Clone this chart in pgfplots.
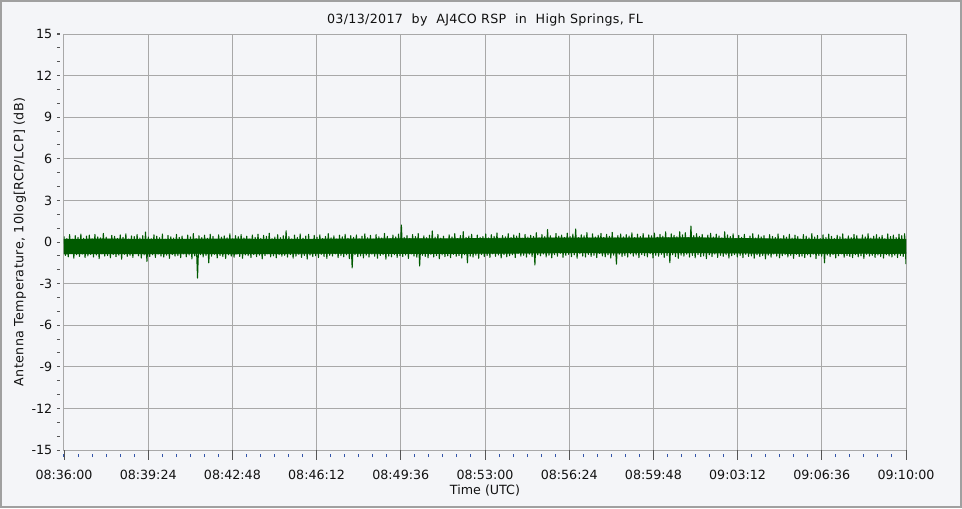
\documentclass[border=0pt]{standalone}
\usepackage{fontspec}
\setmainfont{DejaVu Sans}
\newfontfamily\spaced[LetterSpace=3.3]{DejaVu Sans}
\newfontfamily\spacedt[LetterSpace=2.6]{DejaVu Sans}
\usepackage{pgfplots}
\pgfplotsset{compat=1.18}
\usepackage{pgfplotstable}
\definecolor{bg}{HTML}{F4F5F8}
\definecolor{framecol}{HTML}{A0A0A0}
\definecolor{gridcol}{HTML}{A8A8A8}
\definecolor{sig}{HTML}{005A00}
\definecolor{tickcol}{HTML}{555555}
\definecolor{mtickcol}{HTML}{3355AA}
\definecolor{txt}{HTML}{111111}

\pgfplotstableread[row sep=\\]{
y\\
0.40\\ -0.97\\ 0.25\\ -1.07\\ 0.53\\ -0.82\\ 0.20\\ -1.17\\ 0.45\\ -0.92\\ 0.33\\ -1.04\\ 0.57\\ -0.87\\ 0.27\\ -1.12\\ 0.43\\ -1.00\\ 0.50\\ -0.90\\
0.23\\ -1.08\\ 0.55\\ -0.94\\ 0.37\\ -1.20\\ 0.30\\ -0.86\\ 0.62\\ -1.02\\ 0.35\\ -0.98\\ 0.18\\ -1.14\\ 0.48\\ -0.91\\ 0.41\\ -1.06\\ 0.26\\ -0.95\\
0.51\\ -1.24\\ 0.34\\ -0.89\\ 0.59\\ -1.03\\ 0.22\\ -0.96\\ 0.44\\ -1.11\\ 0.39\\ -0.84\\ 0.54\\ -0.99\\ 0.29\\ -1.16\\ 0.46\\ -0.93\\ 0.72\\ -1.40\\
0.36\\ -1.05\\ 0.24\\ -0.92\\ 0.52\\ -1.12\\ 0.42\\ -0.88\\ 0.31\\ -1.01\\ 0.58\\ -1.09\\ 0.21\\ -0.95\\ 0.47\\ -1.18\\ 0.38\\ -0.90\\ 0.28\\ -1.02\\
0.55\\ -0.98\\ 0.33\\ -1.13\\ 0.43\\ -0.86\\ 0.19\\ -1.07\\ 0.50\\ -0.94\\ 0.37\\ -1.22\\ 0.61\\ -1.00\\ 0.25\\ -2.60\\ 0.45\\ -0.91\\ 0.32\\ -1.08\\
0.49\\ -0.96\\ 0.27\\ -1.50\\ 0.56\\ -1.03\\ 0.40\\ -0.89\\ 0.17\\ -1.15\\ 0.52\\ -0.97\\ 0.35\\ -1.05\\ 0.44\\ -1.19\\ 0.30\\ -0.92\\ 0.59\\ -1.01\\
0.23\\ -1.10\\ 0.46\\ -0.87\\ 0.38\\ -1.04\\ 0.54\\ -1.17\\ 0.29\\ -0.93\\ 0.42\\ -0.99\\ 0.20\\ -1.12\\ 0.51\\ -0.90\\ 0.34\\ -1.06\\ 0.57\\ -0.95\\
0.26\\ -1.21\\ 0.48\\ -0.98\\ 0.41\\ -0.85\\ 0.63\\ -1.07\\ 0.24\\ -1.00\\ 0.36\\ -1.14\\ 0.53\\ -0.92\\ 0.31\\ -1.03\\ 0.45\\ -0.96\\ 0.81\\ -1.09\\
0.39\\ -0.91\\ 0.22\\ -1.16\\ 0.50\\ -1.02\\ 0.33\\ -0.88\\ 0.58\\ -1.11\\ 0.28\\ -0.97\\ 0.43\\ -1.23\\ 0.55\\ -0.94\\ 0.18\\ -1.05\\ 0.47\\ -0.99\\
0.35\\ -1.12\\ 0.52\\ -0.89\\ 0.25\\ -1.04\\ 0.40\\ -1.18\\ 0.60\\ -0.96\\ 0.30\\ -1.01\\ 0.44\\ -0.86\\ 0.21\\ -1.13\\ 0.49\\ -0.98\\ 0.37\\ -1.07\\
0.56\\ -0.93\\ 0.27\\ -1.20\\ 0.45\\ -1.87\\ 0.34\\ -0.90\\ 0.51\\ -1.06\\ 0.23\\ -1.00\\ 0.42\\ -1.15\\ 0.59\\ -0.95\\ 0.31\\ -1.09\\ 0.48\\ -0.88\\
0.20\\ -1.03\\ 0.54\\ -1.17\\ 0.38\\ -0.97\\ 0.29\\ -0.92\\ 0.62\\ -1.24\\ 0.41\\ -1.01\\ 0.24\\ -1.07\\ 0.50\\ -0.91\\ 0.36\\ -1.12\\ 0.57\\ -0.99\\
1.23\\ -1.05\\ 0.33\\ -0.94\\ 0.46\\ -1.19\\ 0.26\\ -0.87\\ 0.53\\ -1.02\\ 0.39\\ -1.10\\ 0.61\\ -1.73\\ 0.22\\ -0.96\\ 0.44\\ -1.04\\ 0.31\\ -1.14\\
0.49\\ -0.90\\ 0.80\\ -1.08\\ 0.35\\ -0.98\\ 0.55\\ -1.21\\ 0.28\\ -0.93\\ 0.42\\ -1.06\\ 0.19\\ -1.00\\ 0.52\\ -1.13\\ 0.37\\ -0.89\\ 0.60\\ -1.03\\
0.25\\ -0.97\\ 0.47\\ -1.16\\ 0.75\\ -0.92\\ 0.32\\ -1.50\\ 0.43\\ -1.01\\ 0.56\\ -1.09\\ 0.21\\ -0.95\\ 0.50\\ -1.18\\ 0.34\\ -0.91\\ 0.40\\ -1.05\\
0.58\\ -0.98\\ 0.29\\ -1.11\\ 0.53\\ -0.86\\ 0.41\\ -1.03\\ 0.65\\ -0.94\\ 0.24\\ -1.15\\ 0.46\\ -0.90\\ 0.37\\ -1.07\\ 0.60\\ -0.99\\ 0.32\\ -0.92\\
0.51\\ -1.12\\ 0.43\\ -0.84\\ 0.63\\ -1.02\\ 0.27\\ -0.96\\ 0.55\\ -1.09\\ 0.35\\ -0.88\\ 0.48\\ -1.05\\ 0.40\\ -1.66\\ 0.67\\ -0.93\\ 0.30\\ -1.00\\
0.54\\ -0.87\\ 0.38\\ -1.08\\ 0.90\\ -0.95\\ 0.45\\ -1.14\\ 0.26\\ -0.91\\ 0.61\\ -1.03\\ 0.42\\ -0.82\\ 0.50\\ -1.10\\ 0.33\\ -0.97\\ 0.64\\ -0.89\\
0.39\\ -1.06\\ 0.57\\ -0.93\\ 0.94\\ -1.17\\ 0.31\\ -0.85\\ 0.52\\ -1.01\\ 0.44\\ -1.08\\ 0.68\\ -0.90\\ 0.28\\ -1.04\\ 0.59\\ -0.96\\ 0.36\\ -1.12\\
0.49\\ -0.83\\ 0.62\\ -1.00\\ 0.34\\ -1.07\\ 0.55\\ -0.92\\ 0.41\\ -1.16\\ 0.70\\ -0.95\\ 0.29\\ -1.60\\ 0.47\\ -0.88\\ 0.58\\ -1.05\\ 0.37\\ -0.98\\
0.53\\ -1.09\\ 0.43\\ -0.86\\ 0.66\\ -1.02\\ 0.32\\ -0.94\\ 0.56\\ -1.13\\ 0.40\\ -0.91\\ 0.61\\ -0.99\\ 0.27\\ -1.07\\ 0.51\\ -0.84\\ 0.45\\ -1.15\\
0.64\\ -0.96\\ 0.35\\ -1.03\\ 0.54\\ -0.89\\ 0.42\\ -1.11\\ 0.73\\ -0.98\\ 0.30\\ -1.50\\ 0.59\\ -0.92\\ 0.48\\ -1.05\\ 0.38\\ -1.18\\ 0.74\\ -0.95\\
0.52\\ -1.02\\ 0.67\\ -0.88\\ 0.33\\ -1.09\\ 1.15\\ -0.97\\ 0.46\\ -1.14\\ 0.60\\ -0.91\\ 0.41\\ -1.06\\ 0.55\\ -1.00\\ 0.29\\ -1.20\\ 0.50\\ -0.93\\
0.63\\ -1.05\\ 0.36\\ -0.87\\ 0.57\\ -1.11\\ 0.44\\ -0.96\\ 0.31\\ -1.03\\ 0.74\\ -0.92\\ 0.51\\ -1.16\\ 0.39\\ -0.99\\ 0.59\\ -0.90\\ 0.26\\ -1.08\\
0.48\\ -0.97\\ 0.34\\ -1.13\\ 0.55\\ -0.89\\ 0.23\\ -1.04\\ 0.43\\ -1.00\\ 0.60\\ -1.17\\ 0.29\\ -0.92\\ 0.51\\ -1.06\\ 0.37\\ -0.98\\ 0.46\\ -1.22\\
0.20\\ -0.95\\ 0.53\\ -1.09\\ 0.40\\ -0.87\\ 0.32\\ -1.02\\ 0.58\\ -1.14\\ 0.25\\ -0.99\\ 0.45\\ -0.91\\ 0.35\\ -1.08\\ 0.56\\ -0.96\\ 0.28\\ -1.18\\
0.50\\ -0.90\\ 0.39\\ -1.05\\ 0.21\\ -1.01\\ 0.54\\ -1.12\\ 0.42\\ -0.93\\ 0.30\\ -1.07\\ 0.61\\ -0.88\\ 0.36\\ -1.20\\ 0.47\\ -0.98\\ 0.24\\ -1.03\\
0.52\\ -1.50\\ 0.33\\ -0.94\\ 0.57\\ -1.06\\ 0.41\\ -0.91\\ 0.26\\ -1.15\\ 0.49\\ -0.99\\ 0.38\\ -0.86\\ 0.59\\ -1.10\\ 0.22\\ -0.97\\ 0.44\\ -1.04\\
0.31\\ -1.13\\ 0.55\\ -0.92\\ 0.46\\ -1.07\\ 0.19\\ -1.00\\ 0.51\\ -1.19\\ 0.37\\ -0.89\\ 0.60\\ -1.02\\ 0.28\\ -0.96\\ 0.42\\ -1.11\\ 0.53\\ -0.94\\
0.35\\ -1.05\\ 0.48\\ -1.16\\ 0.25\\ -0.91\\ 0.58\\ -1.01\\ 0.40\\ -1.08\\ 0.50\\ -0.95\\ 0.32\\ -1.12\\ 0.56\\ -0.98\\ 0.45\\ -1.04\\ 0.60\\ -1.60\\
}\sigtable

% solid core of the signal band: upper edge forward, lower edge back
\pgfplotstableread{
x y
0 0.20
102 0.22
204 0.20
306 0.21
408 0.22
510 0.20
612 0.21
714 0.22
816 0.24
918 0.23
1020 0.26
1122 0.28
1224 0.30
1326 0.29
1428 0.30
1530 0.31
1632 0.26
1734 0.22
1836 0.20
1938 0.22
2040 0.20
2040 -0.84
1938 -0.82
1836 -0.84
1734 -0.82
1632 -0.80
1530 -0.78
1428 -0.78
1326 -0.79
1224 -0.78
1122 -0.80
1020 -0.82
918 -0.83
816 -0.83
714 -0.84
612 -0.84
510 -0.85
408 -0.86
306 -0.84
204 -0.86
102 -0.85
0 -0.86
}\coretable

\pgfplotsset{
  chartbase/.style={
    at={(0,0)}, anchor=south west,
    scale only axis, width=631.5pt, height=312pt,
  }
}

\begin{document}
\begin{tikzpicture}
\useasboundingbox (-48pt,-43.5pt) rectangle (673.5pt,337.5pt);
\fill[bg] (-48pt,-43.5pt) rectangle (673.5pt,337.5pt);
\draw[framecol, line width=1.5pt] (-47.25pt,-42.75pt) rectangle (672.75pt,336.75pt);
% data, grid, frame, labels and small ticks
\begin{axis}[chartbase,
  xmin=0, xmax=2040, ymin=-15, ymax=15,
  xtick={0,204,408,612,816,1020,1224,1428,1632,1836,2040},
  ytick={-15,-12,-9,-6,-3,0,3,6,9,12,15},
  xticklabels={08:36:00,08:39:24,08:42:48,08:46:12,08:49:36,08:53:00,08:56:24,08:59:48,09:03:12,09:06:36,09:10:00},
  yticklabels={-15,-12,-9,-6,-3,0,3,6,9,12,15},
  minor xtick={0,34,...,2040},
  minor ytick={-15,-14,...,15},
  tick pos=left, tick align=outside,
  major tick length=7.5pt, minor tick length=2.25pt,
  every major x tick/.style={draw=none},
  every major y tick/.style={draw=none},
  every minor x tick/.style={draw=mtickcol, line width=0.75pt, yshift=-3pt},
  every minor y tick/.style={draw=tickcol, line width=0.75pt, xshift=-3pt},
  grid=major,
  major grid style={draw=gridcol, line width=0.75pt},
  axis line style={draw=gridcol, line width=0.75pt},
  tick label style={font=\fontsize{9.5}{11}\selectfont, text=txt},
  xticklabel style={anchor=north, inner sep=0pt, yshift=-7.5pt},
  yticklabel style={anchor=east, inner sep=0pt, xshift=-1.1pt},
  label style={font=\fontsize{9.5}{11}\selectfont, text=txt},
  xlabel={Time (UTC)},
  ylabel={\spaced Antenna Temperature, 10log[RCP/LCP] (dB)},
  xlabel style={at={(axis description cs:0.5,-0.0978)}, anchor=center, inner sep=0pt},
  ylabel style={at={(axis description cs:-0.0523,0.5)}, anchor=center, inner sep=0pt},
  title={\spacedt 03/13/2017\ \ by\ \ AJ4CO RSP\ \ in\ \ High Springs, FL},
  title style={at={(axis description cs:0.5,1.0145)}, anchor=center, inner sep=0pt, font=\fontsize{9.5}{11}\selectfont, text=txt},
]
\addplot[fill=sig, draw=sig, line width=0.5pt] table[x=x, y=y] {\coretable} \closedcycle;
\addplot[sig, line width=0.8pt, line join=round] table[x expr=\coordindex*2040/599, y=y] {\sigtable};
\end{axis}
% tick marks of the time axis and dots of the dB axis (axis measured in pixels)
\begin{axis}[chartbase,
  xmin=0, xmax=842, ymin=0, ymax=416,
  hide axis, clip=false,
]
\addplot[ycomb, draw=tickcol, line width=0.75pt, mark=none] coordinates {
(0,-10) (84.2,-10) (168.4,-10) (252.6,-10) (336.8,-10) (421,-10)
(505.2,-10) (589.4,-10) (673.6,-10) (757.8,-10) (842,-10)};
\addplot[only marks, mark=-, mark size=1pt, mark options={draw=tickcol, line width=0.75pt}] coordinates {
(-5.75,0) (-5.75,41.6) (-5.75,83.2) (-5.75,124.8) (-5.75,166.4) (-5.75,208)
(-5.75,249.6) (-5.75,291.2) (-5.75,332.8) (-5.75,374.4) (-5.75,416)};
\end{axis}
\end{tikzpicture}
\end{document}
